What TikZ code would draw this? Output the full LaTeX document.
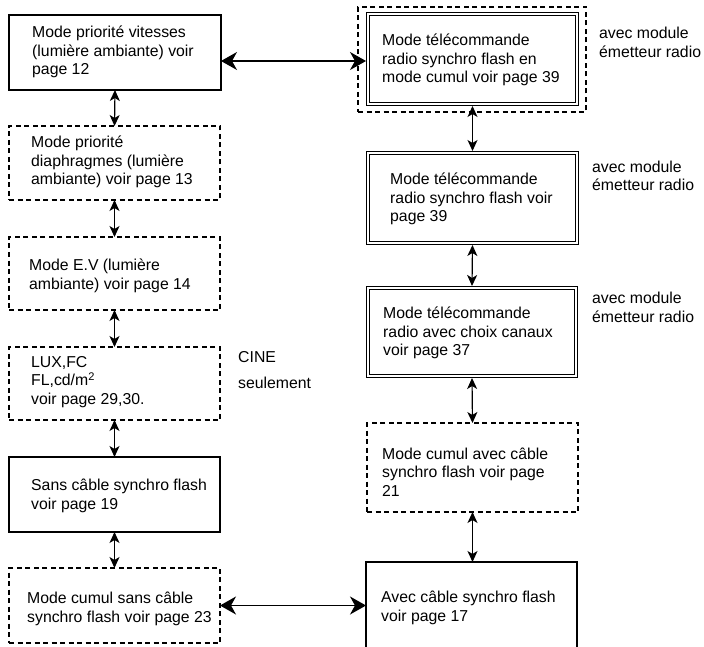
\documentclass[tikz,border=0pt]{standalone}
\usepackage{fontspec}
\setmainfont{Liberation Sans}
\usetikzlibrary{arrows.meta}
\begin{document}
\begin{tikzpicture}[x=1pt,y=-1pt,
  bx/.style={draw, line width=1.2pt, inner sep=0pt, outer sep=0pt},
  solidbox/.style={bx},
  dashbox/.style={bx, dash pattern=on 5pt off 3.5pt},
  dblbox/.style={draw, line width=1pt, double, double distance=1.6pt, inner sep=0pt, outer sep=1.8pt},
  txt/.style={anchor=west, align=left, inner sep=0pt, font=\fontsize{15.8}{18.5}\selectfont},
  vtip/.tip={Stealth[length=11pt,width=10pt,inset=3pt]},
  htip/.tip={Stealth[length=16pt,width=18pt,inset=5pt]},
  varr/.style={line width=1.2pt, vtip-vtip},
  harr/.style={line width=1.2pt, htip-htip},
]
\clip (0,0) rectangle (704,647);
% left column
\node[solidbox, minimum width=212pt, minimum height=75pt] (b1) at (115,52.5) {};
\node[dashbox, minimum width=211pt, minimum height=74pt] (b2) at (114.5,163) {};
\node[dashbox, minimum width=211pt, minimum height=73pt] (b3) at (114.5,273.5) {};
\node[dashbox, minimum width=211pt, minimum height=73pt] (b4) at (114.5,383.5) {};
\node[solidbox, minimum width=211pt, minimum height=75pt] (b5) at (114.5,494.5) {};
\node[dashbox, minimum width=211pt, minimum height=75pt] (b6) at (114.5,605.5) {};
% right column
\node[dashbox, minimum width=228pt, minimum height=105pt] (grp) at (472,59.5) {};
\node[dblbox, minimum width=209.4pt, minimum height=90.4pt] (A) at (472.5,59) {};
\node[dblbox, minimum width=209.4pt, minimum height=90.4pt] (B) at (472.5,198) {};
\node[dblbox, minimum width=208.4pt, minimum height=88.4pt] (C) at (472,332) {};
\node[dashbox, minimum width=211pt, minimum height=89pt] (D) at (472.5,467.5) {};
\node[solidbox, minimum width=211pt, minimum height=92pt] (E) at (471.5,608) {};
% texts
\node[txt] (t1) at (32,52) {Mode priorité vitesses\\(lumière ambiante) voir\\page 12};
\node[txt] (t2) at (31,162) {Mode priorité\\diaphragmes (lumière\\ambiante) voir page 13};
\node[txt] (t3) at (29,276) {Mode E.V (lumière\\ambiante) voir page 14};
\node[txt] (t4) at (31,382) {LUX,FC\\FL,cd/m\textsuperscript{2}\\voir page 29,30.};
\node[txt] (t5) at (31,496) {Sans câble synchro flash\\voir page 19};
\node[txt] (t6) at (27,609) {Mode cumul sans câble\\synchro flash voir page 23};
\node[txt] (tA) at (382,60) {Mode télécommande\\radio synchro flash en\\mode cumul voir page 39};
\node[txt] (tB) at (390,199) {Mode télécommande\\radio synchro flash voir\\page 39};
\node[txt] (tC) at (383,333) {Mode télécommande\\radio avec choix canaux\\voir page 37};
\node[txt] (tD) at (382,472) {Mode cumul avec câble\\synchro flash voir page\\21};
\node[txt] (tE) at (381,608) {Avec câble synchro flash\\voir page 17};
\node[txt] (lA) at (599,42.5) {avec module\\émetteur radio};
\node[txt] (lB) at (592,176) {avec module\\émetteur radio};
\node[txt] (lC) at (592,307.5) {avec module\\émetteur radio};
\node[txt] (cine) at (238,370) {CINE\\[7.5pt]seulement};
% connectors
\draw[varr] (b1.south) -- (b2.north);
\draw[varr] (b2.south) -- (b3.north);
\draw[varr] (b3.south) -- (b4.north);
\draw[varr] (b4.south) -- (b5.north);
\draw[varr] (b5.south) -- (b6.north);
\draw[varr] (A.south) -- (B.north);
\draw[varr] (B.south) -- (C.north);
\draw[varr] (C.south) -- (D.north);
\draw[varr] (D.south) -- (D.south |- E.north);
\draw[harr] ([yshift=-8.5pt]b1.east) -- ([yshift=-8.5pt]b1.east -| A.west);
\draw[harr] (b6.east) -- (b6.east -| E.west);
\end{tikzpicture}
\end{document}
